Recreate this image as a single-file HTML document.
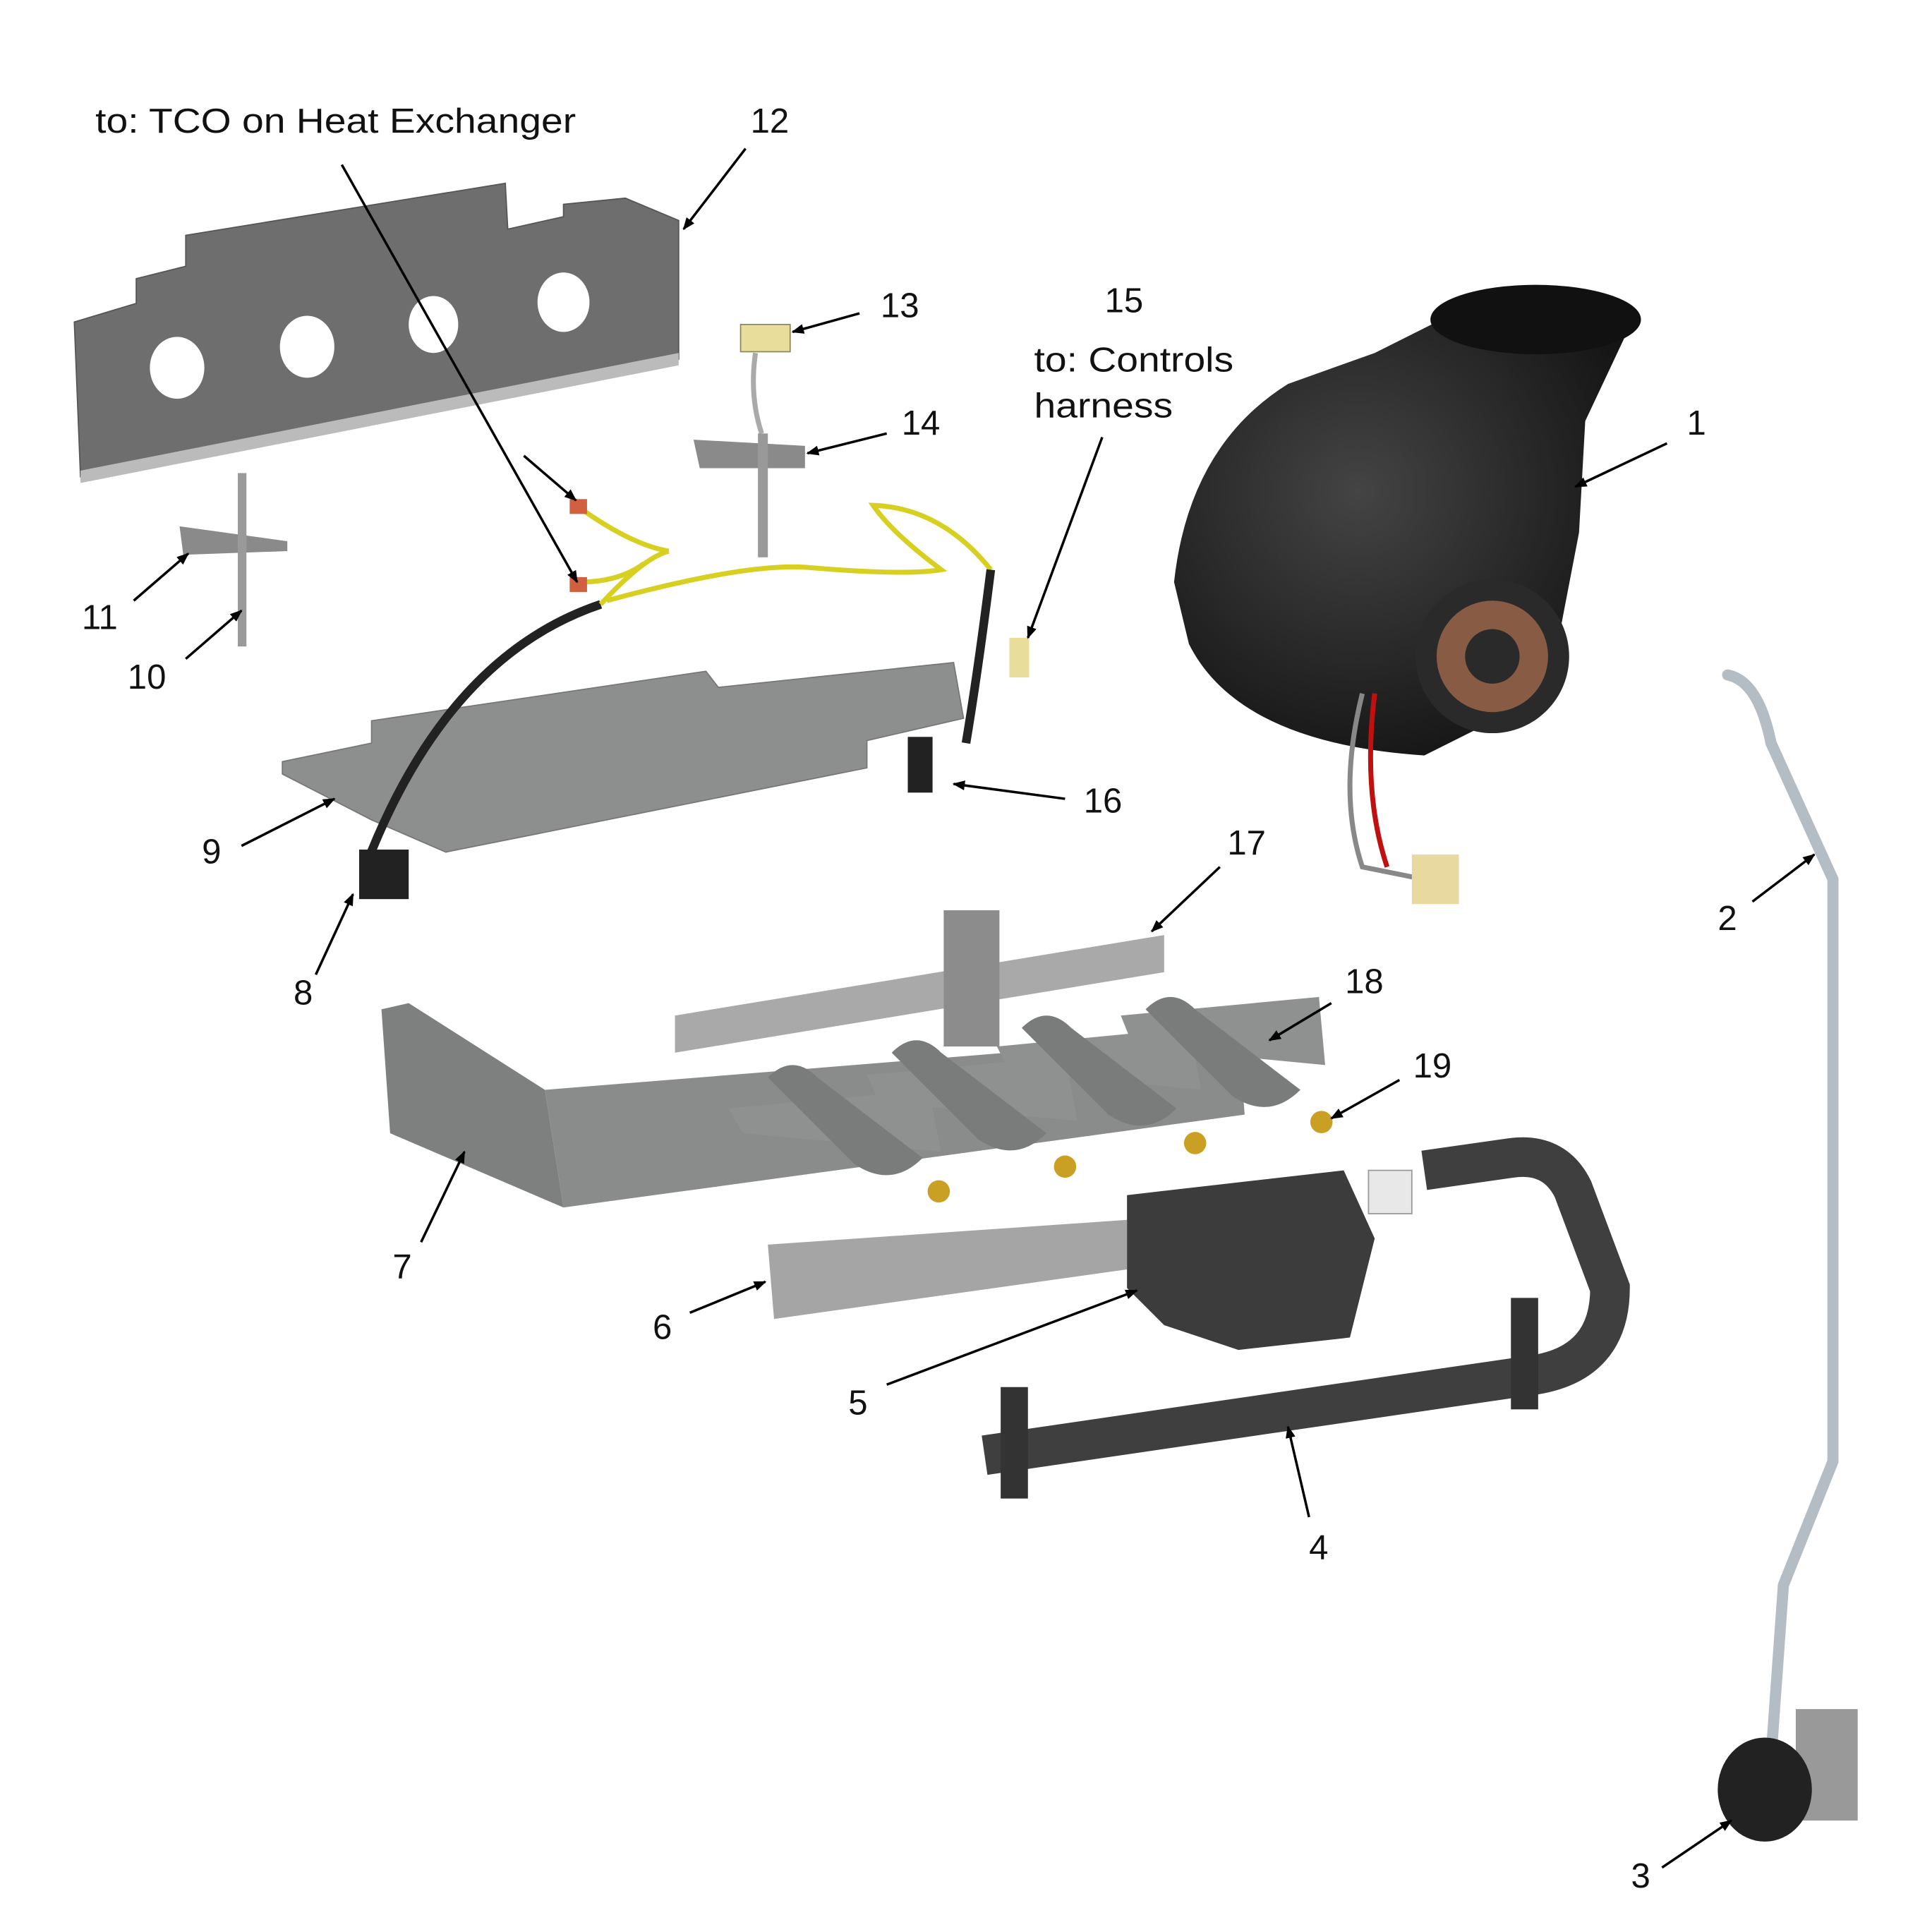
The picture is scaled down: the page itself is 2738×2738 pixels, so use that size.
<!DOCTYPE html>
<html><head><meta charset="utf-8"><style>
html,body{margin:0;padding:0;background:#fff;width:2738px;height:2738px;overflow:hidden}
svg{display:block}
text{font-family:"Liberation Sans",Arial,sans-serif;font-size:28px;fill:#111}
</style></head><body>
<svg width="2738" height="2738" viewBox="0 0 1560 1560" xmlns="http://www.w3.org/2000/svg">
<defs>
<marker id="a" markerWidth="10" markerHeight="10" refX="9" refY="5" orient="auto" markerUnits="userSpaceOnUse"><path d="M0,1 L10,5 L0,9 z" fill="#000"/></marker>
<radialGradient id="bl" cx="0.4" cy="0.4" r="0.7"><stop offset="0" stop-color="#444"/><stop offset="1" stop-color="#111"/></radialGradient>
</defs>
<!-- plate 12 -->
<path d="M60,260 L110,245 L110,225 L150,215 L150,190 L408,148 L410,185 L455,175 L455,165 L505,160 L548,178 L548,290 L65,385 Z" fill="#6e6e6e" stroke="#555"/>
<path d="M65,380 L548,285 L548,295 L65,390 Z" fill="#bbb"/>
<g fill="#fff"><ellipse cx="143" cy="297" rx="22" ry="25"/><ellipse cx="248" cy="280" rx="22" ry="25"/><ellipse cx="350" cy="262" rx="20" ry="23"/><ellipse cx="455" cy="244" rx="21" ry="24"/></g>
<!-- 13/14 sensor -->
<rect x="598" y="262" width="40" height="22" fill="#e8dd9a" stroke="#886"/>
<path d="M610,285 Q605,320 615,350" stroke="#aaa" stroke-width="4" fill="none"/>
<path d="M560,355 L650,360 L650,378 L565,378 Z" fill="#8a8a8a"/>
<rect x="612" y="350" width="8" height="100" fill="#999"/>
<!-- 11/10 -->
<path d="M145,425 L232,437 L232,445 L148,448 Z" fill="#8a8a8a"/>
<rect x="192" y="382" width="7" height="140" fill="#9a9a9a"/>
<!-- plate 9 -->
<path d="M228,615 L300,600 L300,582 L570,542 L580,555 L770,535 L778,580 L700,598 L700,620 L360,688 L300,662 L228,625 Z" fill="#8d8f8f" stroke="#777"/>
<!-- harness -->
<path d="M485,488 Q360,530 295,700" stroke="#222" stroke-width="7" fill="none"/>
<path d="M485,488 Q520,450 540,445 M490,485 Q600,455 650,458 Q730,465 760,460 Q720,430 705,408 Q760,410 800,460" stroke="#d8d020" stroke-width="4" fill="none"/>
<path d="M800,460 Q790,540 780,600" stroke="#222" stroke-width="7" fill="none"/>
<path d="M468,410 Q510,440 540,445 M468,470 Q500,470 520,455" stroke="#d8d020" stroke-width="4" fill="none"/>
<rect x="460" y="403" width="14" height="12" fill="#d06040"/><rect x="460" y="466" width="14" height="12" fill="#d06040"/>
<rect x="815" y="515" width="16" height="32" fill="#e8dd9a"/>
<rect x="290" y="686" width="40" height="40" fill="#222"/>
<rect x="733" y="595" width="20" height="45" fill="#222"/>
<!-- blower 1 -->
<path d="M948,470 Q960,360 1040,310 L1110,285 L1160,260 L1320,255 L1280,340 L1275,430 L1250,560 L1150,610 Q1000,600 960,520 Z" fill="url(#bl)"/>
<ellipse cx="1240" cy="258" rx="85" ry="28" fill="#111"/>
<circle cx="1205" cy="530" r="62" fill="#2a2a2a"/>
<circle cx="1205" cy="530" r="45" fill="#b07050" opacity="0.7"/>
<circle cx="1205" cy="530" r="22" fill="#2a2a2a"/>
<path d="M1100,560 Q1080,640 1100,700 L1150,710" stroke="#888" stroke-width="4" fill="none"/>
<path d="M1110,560 Q1100,640 1120,700" stroke="#c01010" stroke-width="4" fill="none"/>
<rect x="1140" y="690" width="38" height="40" fill="#e8d9a0"/>
<!-- tube 2 -->
<path d="M1395,545 Q1420,550 1430,600 L1480,710 L1480,1180 L1440,1280 L1430,1420" stroke="#b4bcc4" stroke-width="9" fill="none" stroke-linecap="round"/>
<!-- switch 3 -->
<rect x="1450" y="1380" width="50" height="90" fill="#999"/>
<ellipse cx="1425" cy="1445" rx="38" ry="42" fill="#222"/>
<!-- 17 bracket -->
<path d="M545,820 L940,755 L940,785 L545,850 Z" fill="#a9a9a9"/>
<rect x="762" y="735" width="45" height="110" fill="#8c8c8c"/>
<!-- 7 manifold box -->
<path d="M308,815 L330,810 L440,880 L455,975 L315,915 Z" fill="#7e8080"/>
<path d="M440,880 L1000,835 L1005,900 L455,975 Z" fill="#8a8c8c"/>
<!-- burners 18 -->
<g fill="#8f9191">
<path d="M588,895 L750,880 L760,930 L600,915 Z"/><path d="M700,868 L860,853 L870,905 L710,890 Z"/><path d="M805,845 L960,830 L970,880 L815,865 Z"/><path d="M905,820 L1065,805 L1070,860 L915,845 Z"/>
</g>
<g fill="#7a7c7c">
<path d="M620,870 Q640,850 660,870 L745,935 Q720,960 690,940 Z"/>
<path d="M720,850 Q740,830 760,850 L845,915 Q820,940 790,920 Z"/>
<path d="M825,830 Q845,810 865,830 L950,895 Q925,920 895,900 Z"/>
<path d="M925,815 Q945,795 965,815 L1050,880 Q1025,905 995,885 Z"/>
</g>
<!-- orifices 19 -->
<g fill="#c9a024"><circle cx="758" cy="962" r="9"/><circle cx="860" cy="942" r="9"/><circle cx="965" cy="923" r="9"/><circle cx="1067" cy="906" r="9"/></g>
<!-- 6 bracket -->
<path d="M620,1005 L910,985 L910,1025 L625,1065 Z" fill="#a5a5a5"/>
<!-- valve 5 -->
<path d="M910,965 L1085,945 L1110,1000 L1090,1080 L1000,1090 L940,1070 L910,1040 Z" fill="#3c3c3c"/>
<rect x="1105" y="945" width="35" height="35" fill="#e8e8e8" stroke="#999"/>
<!-- 4 gas pipe -->
<path d="M795,1175 L1240,1110 Q1300,1100 1300,1040 L1270,960 Q1255,930 1220,935 L1150,945" stroke="#3f3f3f" stroke-width="32" fill="none"/>
<rect x="808" y="1120" width="22" height="90" fill="#333"/>
<rect x="1220" y="1048" width="22" height="90" fill="#333"/>
<!-- leaders -->
<g stroke="#000" stroke-width="2" fill="none" marker-end="url(#a)">
<line x1="276" y1="133" x2="466" y2="470"/>
<line x1="423" y1="368" x2="465" y2="404"/>
<line x1="602" y1="120" x2="552" y2="185"/>
<line x1="694" y1="253" x2="640" y2="268"/>
<line x1="716" y1="350" x2="652" y2="366"/>
<line x1="890" y1="353" x2="830" y2="515"/>
<line x1="1346" y1="358" x2="1272" y2="393"/>
<line x1="108" y1="485" x2="152" y2="447"/>
<line x1="150" y1="532" x2="195" y2="493"/>
<line x1="860" y1="645" x2="770" y2="633"/>
<line x1="195" y1="683" x2="270" y2="645"/>
<line x1="985" y1="700" x2="930" y2="752"/>
<line x1="1415" y1="728" x2="1465" y2="690"/>
<line x1="255" y1="787" x2="285" y2="722"/>
<line x1="1075" y1="810" x2="1025" y2="840"/>
<line x1="1130" y1="872" x2="1075" y2="903"/>
<line x1="340" y1="1003" x2="375" y2="930"/>
<line x1="557" y1="1060" x2="618" y2="1035"/>
<line x1="716" y1="1118" x2="918" y2="1042"/>
<line x1="1057" y1="1225" x2="1040" y2="1152"/>
<line x1="1342" y1="1508" x2="1398" y2="1470"/>
</g>
<!-- labels -->
<text x="77" y="107" textLength="388" lengthAdjust="spacingAndGlyphs">to: TCO on Heat Exchanger</text>
<text x="606" y="107">12</text>
<text x="711" y="256">13</text>
<text x="892" y="252">15</text>
<text x="835" y="300" textLength="161" lengthAdjust="spacingAndGlyphs">to: Controls</text>
<text x="835" y="337" textLength="112" lengthAdjust="spacingAndGlyphs">harness</text>
<text x="728" y="351">14</text>
<text x="1362" y="351">1</text>
<text x="66" y="508">11</text>
<text x="103" y="556">10</text>
<text x="875" y="656">16</text>
<text x="163" y="697">9</text>
<text x="991" y="690">17</text>
<text x="1387" y="751">2</text>
<text x="237" y="811">8</text>
<text x="1086" y="802">18</text>
<text x="1141" y="870">19</text>
<text x="317" y="1032">7</text>
<text x="527" y="1081">6</text>
<text x="685" y="1142">5</text>
<text x="1057" y="1259">4</text>
<text x="1317" y="1524">3</text>
</svg>
</body></html>
